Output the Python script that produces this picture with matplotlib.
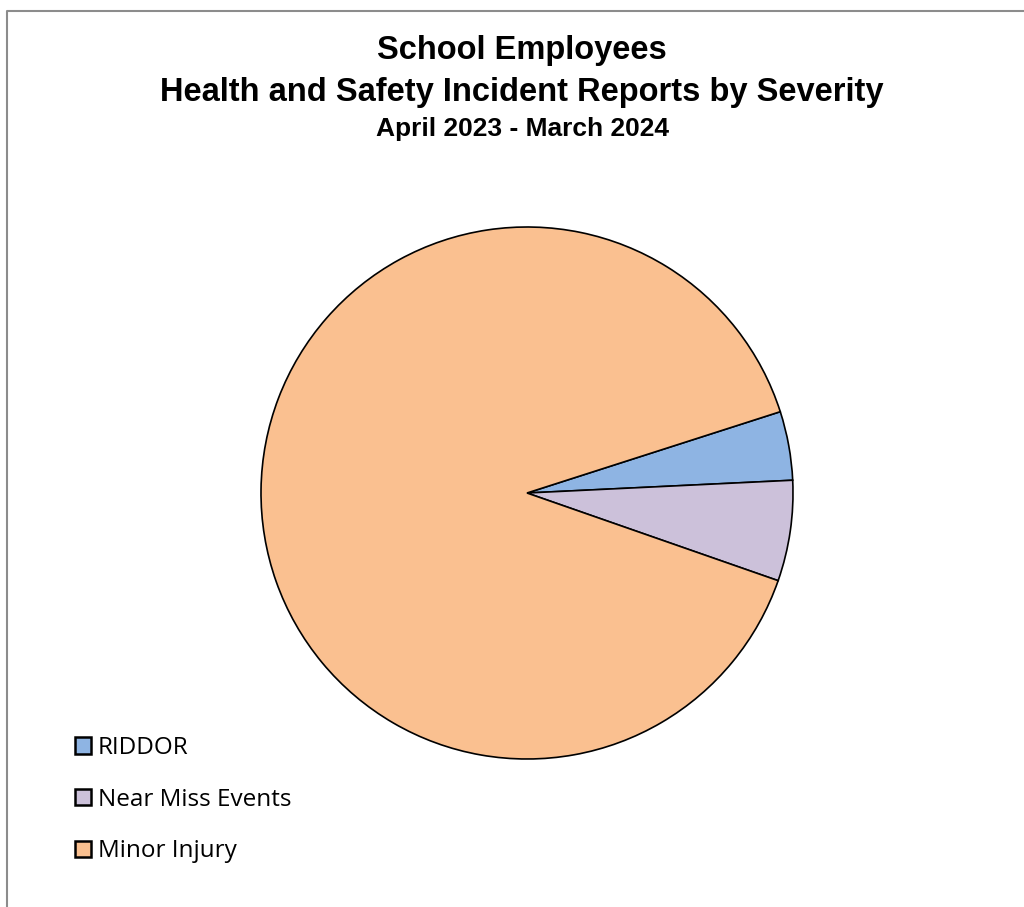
import matplotlib.pyplot as plt
from matplotlib.patches import Patch
from matplotlib.lines import Line2D

labels = ["RIDDOR", "Near Miss Events", "Minor Injury"]
counts = [13, 19, 279]
colors = ["#8EB4E3", "#CCC1DA", "#FAC090"]

W, H = 1024, 907
fig = plt.figure(figsize=(W / 100, H / 100), dpi=100)

# pie centred at (527, 493) px, radius ~265 px
cx, cy, r = 527, 493, 266
ax = fig.add_axes([(cx - r) / W, (H - cy - r) / H, 2 * r / W, 2 * r / H])
ax.pie(counts, colors=colors, startangle=17.8, counterclock=False,
       wedgeprops=dict(edgecolor="black", linewidth=1.2), radius=1)
ax.set_xlim(-1.0, 1.0)
ax.set_ylim(-1.0, 1.0)
ax.set_aspect("equal")
ax.axis("off")

# title
fig.text(522 / W, 1 - 51 / H, "School Employees", ha="center", va="center",
         fontsize=23.5, fontweight="bold", family="Liberation Sans")
fig.text(522 / W, 1 - 92 / H, "Health and Safety Incident Reports by Severity",
         ha="center", va="center", fontsize=23.5, fontweight="bold", family="Liberation Sans")
fig.text(522 / W, 1 - 129 / H, "April 2023 - March 2024", ha="center", va="center",
         fontsize=19, fontweight="bold", family="Liberation Sans")

# legend
handles = [Patch(facecolor=c, edgecolor="black", linewidth=1.8) for c in colors]
leg = fig.legend(handles, labels, loc="upper left", bbox_to_anchor=(75 / W, 1 - 736 / H),
                 frameon=False, prop={"family": "Open Sans", "size": 17.5},
                 borderpad=0, borderaxespad=0,
                 handlelength=0.66, handleheight=0.66, handletextpad=0.28, labelspacing=1.14)

# chart border (left and top)
fig.add_artist(Line2D([7 / W, 7 / W, 1.0], [0.0, 1 - 11 / H, 1 - 11 / H],
                      transform=fig.transFigure, color="#8c8c8c", linewidth=1.5))

fig.savefig("out.png", dpi=100)
